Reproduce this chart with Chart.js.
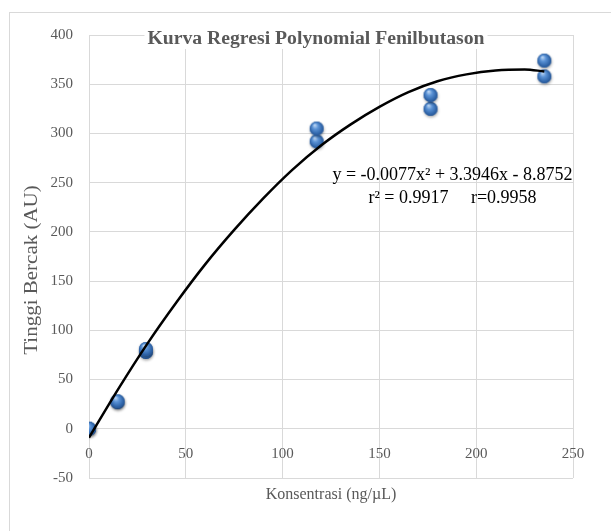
<!DOCTYPE html>
<html><head><meta charset="utf-8">
<script src="https://cdn.jsdelivr.net/npm/chart.js@4/dist/chart.umd.min.js"></script>
<style>html,body{margin:0;padding:0;background:#fff;}#wrap{position:relative;width:611px;height:531px;}</style>
</head><body><div id="wrap"><canvas id="c" width="611" height="531"></canvas></div>
<script>
// ---- data ----
const concentrations = [0, 0, 14.7, 14.7, 29.4, 29.4, 117.6, 117.6, 176.4, 176.4, 235.2, 235.2];
const heights = [0, 0, 27, 28, 78, 81, 292, 305, 325, 339, 358, 374];
const trendX = [0, 15, 30, 45, 60, 75, 90, 105, 120, 135, 150, 165, 180, 195, 210, 225, 235.2];
const trendY = [-9, 40, 86, 128, 167, 202, 234, 263, 288, 309, 327, 342, 353, 360, 364, 365, 363];
const xTicks = [0, 50, 100, 150, 200, 250];
const yTicks = [-50, 0, 50, 100, 150, 200, 250, 300, 350, 400];
const chartTitle = 'Kurva Regresi Polynomial Fenilbutason';
const xTitle = 'Konsentrasi (ng/µL)';
const yTitle = 'Tinggi Bercak (AU)';
const equationLines = ['y = -0.0077x² + 3.3946x - 8.8752', 'r² = 0.9917     r=0.9958'];

const SERIF = '"Liberation Serif", "Times New Roman", serif';
const GRAY = '#595959';
const GRID = '#d9d9d9';

function sphere() {
  const s = document.createElement('canvas');
  s.width = 24; s.height = 24;
  const g = s.getContext('2d');
  g.save();
  g.shadowColor = 'rgba(0,0,0,0.35)';
  g.shadowBlur = 3;
  g.shadowOffsetX = 0.5;
  g.shadowOffsetY = 1.5;
  g.fillStyle = '#3a6fb3';
  g.beginPath(); g.arc(12, 12, 7, 0, Math.PI * 2); g.fill();
  g.restore();
  const r = g.createRadialGradient(10, 8.5, 0.5, 12, 12, 7.5);
  r.addColorStop(0, '#b8d3f2');
  r.addColorStop(0.35, '#5b93d6');
  r.addColorStop(0.8, '#2f64a8');
  r.addColorStop(1, '#23508c');
  g.fillStyle = r;
  g.beginPath(); g.arc(12, 12, 7, 0, Math.PI * 2); g.fill();
  return s;
}

const decor = {
  id: 'decor',
  beforeDraw(chart) {
    const ctx = chart.ctx;
    ctx.save();
    ctx.fillStyle = '#fff';
    ctx.fillRect(0, 0, chart.width, chart.height);
    ctx.strokeStyle = GRID;
    ctx.lineWidth = 1;
    ctx.strokeRect(9.5, 12.5, 700, 700);
    ctx.restore();
  },
  beforeDatasetsDraw(chart) {
    const ctx = chart.ctx;
    ctx.save();
    // chart title (overlays the plot area, white box behind)
    ctx.font = 'bold 19.7px ' + SERIF;
    const w = ctx.measureText(chartTitle).width;
    const cx = 316, cy = 39;
    ctx.fillStyle = '#fff';
    ctx.fillRect(cx - w / 2 - 3, cy - 12, w + 6, 22);
    ctx.fillStyle = GRAY;
    ctx.textAlign = 'center';
    ctx.textBaseline = 'middle';
    ctx.fillText(chartTitle, cx, cy);
    // y axis title
    ctx.font = '21px ' + SERIF;
    ctx.translate(32, 270);
    ctx.rotate(-Math.PI / 2);
    ctx.scale(1, 0.86);
    ctx.fillText(yTitle, 0, 0);
    ctx.restore();
  },
  afterDatasetsDraw(chart) {
    const ctx = chart.ctx;
    ctx.save();
    ctx.font = '18px ' + SERIF;
    ctx.fillStyle = '#000';
    ctx.textAlign = 'center';
    ctx.textBaseline = 'middle';
    ctx.fillText(equationLines[0], 452.5, 175);
    ctx.fillText(equationLines[1], 452.5, 198);
    ctx.restore();
  }
};

const setX = s => { s.ticks = xTicks.map(v => ({ value: v })); };
const setY = s => { s.ticks = yTicks.map(v => ({ value: v })); };

new Chart(document.getElementById('c'), {
  type: 'scatter',
  data: {
    datasets: [
      {
        type: 'line',
        data: trendX.map((x, i) => ({ x, y: trendY[i] })),
        borderColor: '#000',
        borderWidth: 2.5,
        pointRadius: 0,
        cubicInterpolationMode: 'monotone',
        fill: false,
        order: 0
      },
      {
        data: concentrations.map((x, i) => ({ x, y: heights[i] })),
        pointStyle: sphere(),
        pointRadius: 7,
        order: 1
      }
    ]
  },
  options: {
    responsive: false,
    animation: false,
    layout: { padding: { left: 0, top: 35, right: 38, bottom: 0 } },
    plugins: { legend: { display: false }, tooltip: { enabled: false }, title: { display: false } },
    scales: {
      x: {
        type: 'linear', position: 'bottom', min: 0, max: 250,
        afterBuildTicks: setX,
        afterFit: s => { s.height = 53; },
        grid: { color: GRID, lineWidth: 1, drawTicks: false },
        border: { display: false },
        ticks: { display: false },
        title: { display: true, text: xTitle, color: GRAY, font: { family: SERIF, size: 16 }, padding: { top: 0, bottom: 27 } }
      },
      x2: {
        type: 'linear', axis: 'x', position: { y: 0 }, min: 0, max: 250,
        afterBuildTicks: setX,
        afterFit: s => { s.height = 0; },
        grid: { display: false, drawTicks: false },
        border: { display: false },
        ticks: { color: GRAY, font: { family: SERIF, size: 15 }, padding: 16, maxRotation: 0 }
      },
      y: {
        type: 'linear', position: 'left', min: -50, max: 400,
        afterBuildTicks: setY,
        afterFit: s => { s.width = 89; },
        grid: { color: GRID, lineWidth: 1, drawTicks: false },
        border: { display: false },
        ticks: { color: GRAY, font: { family: SERIF, size: 15 }, padding: 16 },
        title: { display: false }
      }
    }
  },
  plugins: [decor]
});
</script>
</body></html>
